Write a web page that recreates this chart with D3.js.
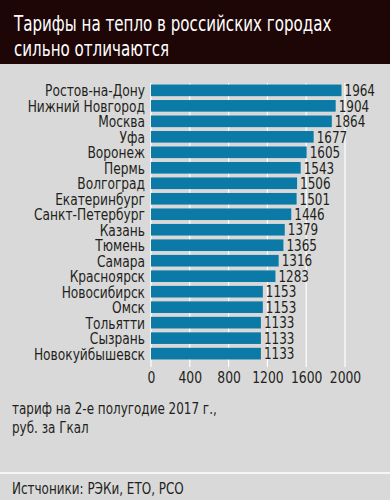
<!DOCTYPE html>
<html>
<head>
<meta charset="utf-8">
<script src="https://cdn.jsdelivr.net/npm/d3@7"></script>
<style>
  body { margin: 0; background: #d9d9d9; }
  svg { display: block; }
  text { font-family: "DejaVu Sans Condensed", "Roboto", sans-serif; }
</style>
</head>
<body>
<div id="chart"></div>
<script>
// Data
var cities = ["Ростов-на-Дону", "Нижний Новгород", "Москва", "Уфа", "Воронеж", "Пермь",
    "Волгоград", "Екатеринбург", "Санкт-Петербург", "Казань", "Тюмень", "Самара",
    "Красноярск", "Новосибирск", "Омск", "Тольятти", "Сызрань", "Новокуйбышевск"];
var tariffs = [1964, 1904, 1864, 1677, 1605, 1543, 1506, 1501, 1446, 1379, 1365, 1316,
    1283, 1153, 1153, 1133, 1133, 1133];
var xTicks = [0, 400, 800, 1200, 1600, 2000];

// narrow text: the original uses a tall condensed face
function narrowText(sel, x, y, sx) {
    return sel.append("text")
        .attr("transform", "translate(" + x + "," + y + ") scale(" + sx + ",1)");
}

function createChart() {
    var width = 390, height = 500;
    var margin = { top: 83, left: 151, right: 45 };
    var plotW = width - margin.left - margin.right;

    var svg = d3.select("#chart").append("svg")
        .attr("width", width)
        .attr("height", height);

    svg.append("rect").attr("width", width).attr("height", height).attr("fill", "#d9d9d9");

    // Title bar
    svg.append("rect").attr("width", width).attr("height", 64).attr("fill", "#1e0606");
    narrowText(svg, 14, 31, 0.8).attr("fill", "#fff")
        .style("font-size", "21px").text("Тарифы на тепло в российских городах");
    narrowText(svg, 14, 56, 0.8).attr("fill", "#fff")
        .style("font-size", "21px").text("сильно отличаются");

    var g = svg.append("g")
        .attr("transform", "translate(" + margin.left + "," + margin.top + ")");

    var x = d3.scaleLinear().domain([0, 2000]).range([0, plotW]);
    var y = d3.scaleBand().domain(cities).range([0, 278]).paddingInner(0.25).paddingOuter(0.1);

    // Grid
    g.selectAll(".grid")
        .data(xTicks)
        .enter().append("line")
        .attr("x1", function (d) { return x(d); })
        .attr("x2", function (d) { return x(d); })
        .attr("y1", 0)
        .attr("y2", 284)
        .attr("stroke", "#fff")
        .attr("stroke-width", 1.2);

    // Bars
    g.selectAll(".bar")
        .data(tariffs)
        .enter().append("rect")
        .attr("x", 0)
        .attr("y", function (d, i) { return y(cities[i]); })
        .attr("width", function (d) { return x(d); })
        .attr("height", y.bandwidth())
        .attr("fill", "#0c7aa6");

    // Value labels
    tariffs.forEach(function (d, i) {
        narrowText(g, x(d) + 3, y(cities[i]) + y.bandwidth() / 2, 0.86)
            .attr("dy", "0.37em")
            .attr("fill", "#231f20")
            .style("font-size", "15.5px")
            .text(d);
    });

    // City labels
    cities.forEach(function (c) {
        narrowText(g, -6, y(c) + y.bandwidth() / 2, 0.85)
            .attr("dy", "0.37em")
            .attr("text-anchor", "end")
            .attr("fill", "#231f20")
            .style("font-size", "16px")
            .text(c);
    });

    // X axis
    var xAxis = d3.axisBottom(x).tickValues(xTicks).tickSize(0).tickPadding(0)
        .tickFormat(d3.format("d"));
    var ax = g.append("g")
        .attr("transform", "translate(0," + 289 + ")")
        .call(xAxis);
    ax.select(".domain").remove();
    ax.selectAll("text")
        .attr("fill", "#231f20")
        .attr("transform", "scale(0.86,1)")
        .style("font-size", "16px")
        .style("font-family", "'DejaVu Sans Condensed', sans-serif");

    // Notes
    narrowText(svg, 12, 414, 0.86).attr("fill", "#231f20")
        .style("font-size", "15.5px").text("тариф на 2-е полугодие 2017 г.,");
    narrowText(svg, 12, 433, 0.86).attr("fill", "#231f20")
        .style("font-size", "15.5px").text("руб. за Гкал");

    svg.append("line").attr("x1", 0).attr("x2", width).attr("y1", 473).attr("y2", 473)
        .attr("stroke", "#fff").attr("stroke-width", 1.5);
    narrowText(svg, 12, 494, 0.86).attr("fill", "#231f20")
        .style("font-size", "15.5px").text("Истчоники: РЭКи, ЕТО, РСО");
}

createChart();
</script>
</body>
</html>
